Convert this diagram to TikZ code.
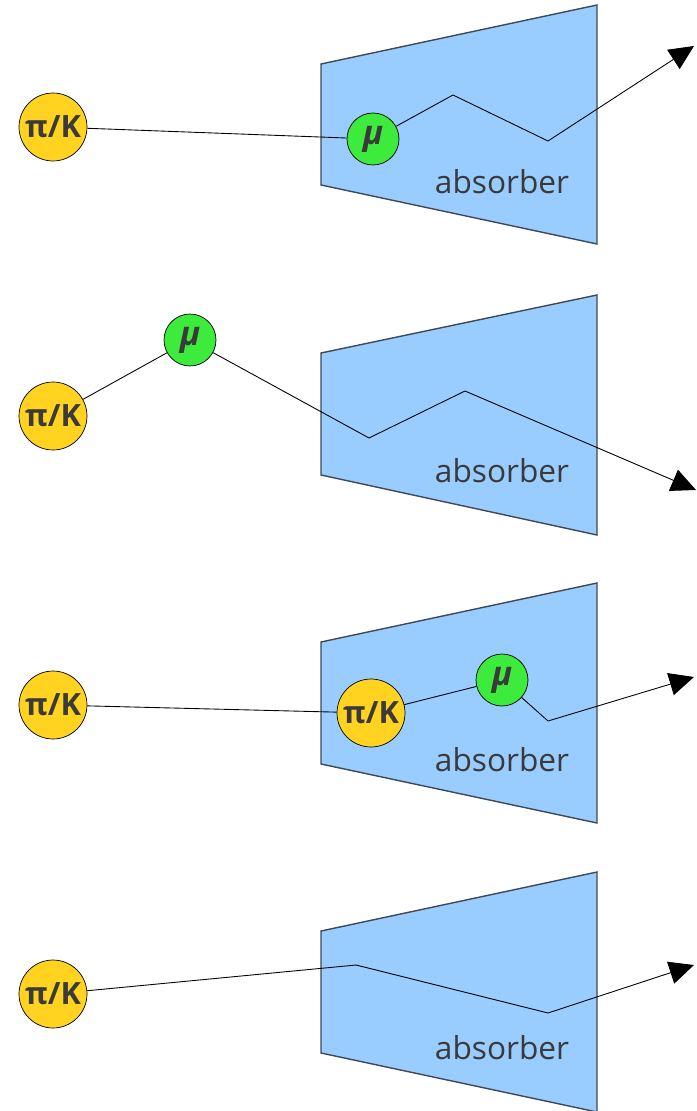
\documentclass[tikz,border=0pt]{standalone}
\usepackage{fontspec}
\setmainfont{Open Sans}
\usetikzlibrary{arrows.meta}
\definecolor{pkyellow}{HTML}{FFD320}
\definecolor{mugreen}{HTML}{3DEB3D}
\definecolor{absblue}{HTML}{99CCFF}
\definecolor{inkgray}{HTML}{3A3A3A}
\definecolor{edgegray}{HTML}{3F4A55}

\begin{document}
\begin{tikzpicture}[x=0.02cm,y=-0.02cm,
    pion/.style={circle,draw=black,fill=pkyellow,minimum size=1.36cm,inner sep=0pt,
      text=inkgray,font=\fontsize{17.5}{17.5}\selectfont\bfseries},
    muon/.style={circle,draw=black,fill=mugreen,minimum size=1.04cm,inner sep=0pt,
      text=inkgray,font=\fontsize{19}{19}\selectfont\bfseries\itshape},
    absorber/.style={draw=edgegray,fill=absblue,line width=0.8pt},
    abslabel/.style={text=inkgray,font=\fontsize{18}{18}\selectfont},
    track/.style={draw=black,line width=0.5pt},
    outgoing/.style={track,-{Triangle[length=14pt,width=13pt]}}]
                \useasboundingbox (0,0) rectangle (696,1111);
                % first: muon decay inside the absorber
                \draw[absorber] (321,64) -- (597,5) -- (597,244) -- (321,185) -- cycle;
                \node[abslabel] (abs1) at (502,182) {absorber};
                \node[pion] (pk1) at (53,127) {π/K};
                \node[muon] (mu1) at (373,139) {μ};
                \coordinate (k1a) at (453,95);
                \coordinate (k1b) at (548,141);
                \coordinate (out1) at (694,46);
                \draw[track] (pk1) -- (mu1);
                \draw[outgoing] (mu1) -- (k1a) -- (k1b) -- (out1);
                % second: decay in flight before the absorber
                \draw[absorber] (321,353) -- (597,295) -- (597,535) -- (321,475) -- cycle;
                \node[abslabel] (abs2) at (502,471) {absorber};
                \node[pion] (pk2) at (53,416) {π/K};
                \node[muon] (mu2) at (190,340) {μ};
                \coordinate (k2a) at (369,438);
                \coordinate (k2b) at (465,391);
                \coordinate (out2) at (696,490);
                \draw[track] (pk2) -- (mu2);
                \draw[outgoing] (mu2) -- (k2a) -- (k2b) -- (out2);
                % third: hadron enters the absorber, then decays
                \draw[absorber] (321,642) -- (597,583) -- (597,823) -- (321,764) -- cycle;
                \node[abslabel] (abs3) at (502,760) {absorber};
                \node[pion] (pk3) at (53,705) {π/K};
                \node[pion] (pk3b) at (371,713) {π/K};
                \node[muon] (mu3) at (502,680) {μ};
                \coordinate (k3a) at (548,721);
                \coordinate (out3) at (694,677);
                \draw[track] (pk3) -- (pk3b);
                \draw[track] (pk3b) -- (mu3);
                \draw[outgoing] (mu3) -- (k3a) -- (out3);
                % fourth: hadron punches through
                \draw[absorber] (321,931) -- (597,872) -- (597,1112) -- (321,1053) -- cycle;
                \node[abslabel] (abs4) at (502,1048) {absorber};
                \node[pion] (pk4) at (53,994) {π/K};
                \coordinate (k4a) at (356,965);
                \coordinate (k4b) at (548,1013);
                \coordinate (out4) at (694,965);
                \draw[outgoing] (pk4) -- (k4a) -- (k4b) -- (out4);
\end{tikzpicture}
\end{document}
